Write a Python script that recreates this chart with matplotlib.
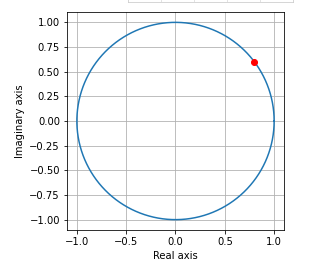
import numpy as np
import matplotlib
matplotlib.use("Agg")
import matplotlib.pyplot as plt

# unit circle samples and the marked point
theta = np.linspace(0, 2 * np.pi, 400)
circle_re = np.cos(theta)
circle_im = np.sin(theta)
point_re = [0.8]
point_im = [0.6]

fig = plt.figure(figsize=(322 / 72, 267 / 72), dpi=72)

# strip of another widget peeking in at the top
top = fig.add_axes([128 / 322, 1 - 1.5 / 267, 165 / 322, 0.3])
top.set_xticks([])
top.set_yticks([])
for s in top.spines.values():
    s.set_color("#cccccc")
for xv in [0.2, 0.4, 0.6, 0.8]:
    top.axvline(xv, color="#dddddd", lw=0.8)

ax = fig.add_axes([67 / 322, 1 - 230 / 267, 217 / 322, 218 / 267])
ax.plot(circle_re, circle_im)
ax.scatter(point_re, point_im, color="red", zorder=3)
ax.set_aspect("equal")
ax.grid(True)
ax.set_xlabel("Real axis")
ax.set_ylabel("Imaginary axis")

fig.savefig("out.png", dpi=72)
